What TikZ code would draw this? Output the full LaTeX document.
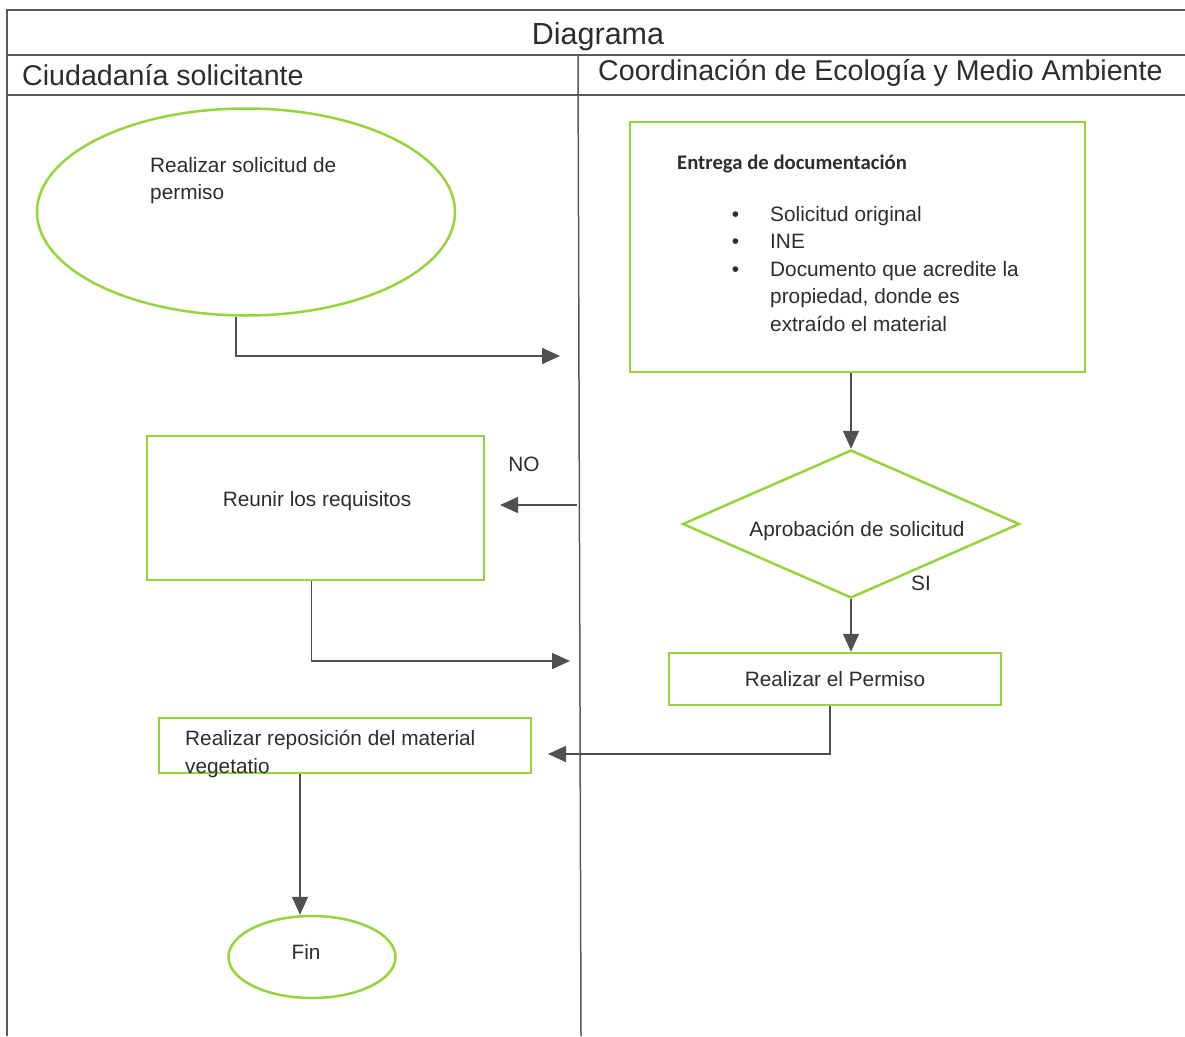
\documentclass[tikz,border=0pt]{standalone}
\usepackage{fontspec}
\setmainfont{Liberation Sans}
\newfontfamily\calfont{Carlito}
\usetikzlibrary{shapes.geometric,arrows.meta}
\definecolor{grn}{RGB}{150,212,60}
\definecolor{txt}{RGB}{45,45,45}
\definecolor{lin}{RGB}{90,90,90}
\definecolor{arrc}{RGB}{80,80,80}
\begin{document}
\begin{tikzpicture}[x=1pt,y=-1pt,
  box/.style={draw=grn,line width=2.5pt,inner sep=0pt},
  conn/.style={draw=arrc,line width=1.6pt,-{Triangle[length=18pt,width=16pt]}},
  tbl/.style={draw=lin,line width=1.5pt},
  lbl/.style={text=txt,font=\fontsize{20.8}{27.5}\selectfont,inner sep=0pt},
  hdr/.style={text=txt,font=\fontsize{28.6}{32}\selectfont,inner sep=0pt}]
\useasboundingbox[fill=white] (0,0) rectangle (1185,1036);

% table
\draw[tbl] (7,1036) -- (7,10) -- (1185,10);
\draw[tbl] (7,55) -- (1185,55);
\draw[tbl] (7,95) -- (1185,95);
\draw[tbl] (578,55) -- (581,1036);
\node[hdr,anchor=base,font=\fontsize{30.5}{34}\selectfont] (title) at (598,44) {Diagrama};
\node[hdr,anchor=base west] (lane1) at (22,85) {Ciudadanía solicitante};
\node[hdr,anchor=base west] (lane2) at (598,80) {Coordinación de Ecología y Medio Ambiente};

% shapes
\node[box,ellipse,minimum width=418pt,minimum height=207pt] (start) at (246,212) {};
\node[lbl,anchor=north west,align=left] (starttxt) at (150,157) {Realizar solicitud de\\permiso};

\node[box,minimum width=455pt,minimum height=250pt] (docs) at (857.5,247) {};
\node[lbl,anchor=base west,font=\calfont\bfseries\fontsize{20.7}{25}\selectfont] (docstitle) at (677,169) {Entrega de documentación};
\node[lbl,anchor=north west,align=left] (docslist) at (770,206)
  {\llap{\textbullet\hspace{31pt}}Solicitud original\\
   \llap{\textbullet\hspace{31pt}}INE\\
   \llap{\textbullet\hspace{31pt}}Documento que acredite la\\
   propiedad, donde es\\
   extraído el material};

\node[box,diamond,aspect=2.28,minimum width=337pt,minimum height=148pt] (dec) at (851,524) {};
\node[lbl,anchor=base] (dectxt) at (857,536) {Aprobación de solicitud};
\node[lbl,anchor=base] (si) at (921,590) {SI};

\node[box,minimum width=332pt,minimum height=52pt] (permit) at (835,679) {};
\node[lbl,anchor=base] (permittxt) at (835,686) {Realizar el Permiso};

\node[box,minimum width=337pt,minimum height=144pt] (reunir) at (315.5,508) {};
\node[lbl,anchor=base] (reunirtxt) at (317,506) {Reunir los requisitos};
\node[lbl,anchor=base] (no) at (524,471) {NO};

\node[box,minimum width=372pt,minimum height=55pt] (repos) at (345,745.5) {};
\node[lbl,anchor=north west,align=left] (repostxt) at (185,730) {Realizar reposición del material\\vegetatio};

\node[box,ellipse,minimum width=167pt,minimum height=82pt] (fin) at (312,957) {};
\node[lbl,anchor=base] (fintxt) at (306,959) {Fin};

% connectors
\coordinate (t1) at (560,356);
\draw[conn] ([xshift=-10pt]start.south) |- (t1);
\draw[conn] (docs.south -| dec.north) -- (dec.north);
\draw[conn] (dec.south) -- (dec.south |- permit.north);
\coordinate (t4) at (548,754);
\draw[conn] ([xshift=-5pt]permit.south) |- (t4);
\coordinate (noS) at (577,505);
\coordinate (noE) at (500,505);
\draw[conn] (noS) -- (noE);
\coordinate (t2) at (570,661);
\draw[conn] ([xshift=-4pt]reunir.south) |- (t2);
\coordinate (r1) at ([xshift=-45pt]repos.south);
\draw[conn] (r1) -- (r1 |- fin.north);
\end{tikzpicture}
\end{document}
